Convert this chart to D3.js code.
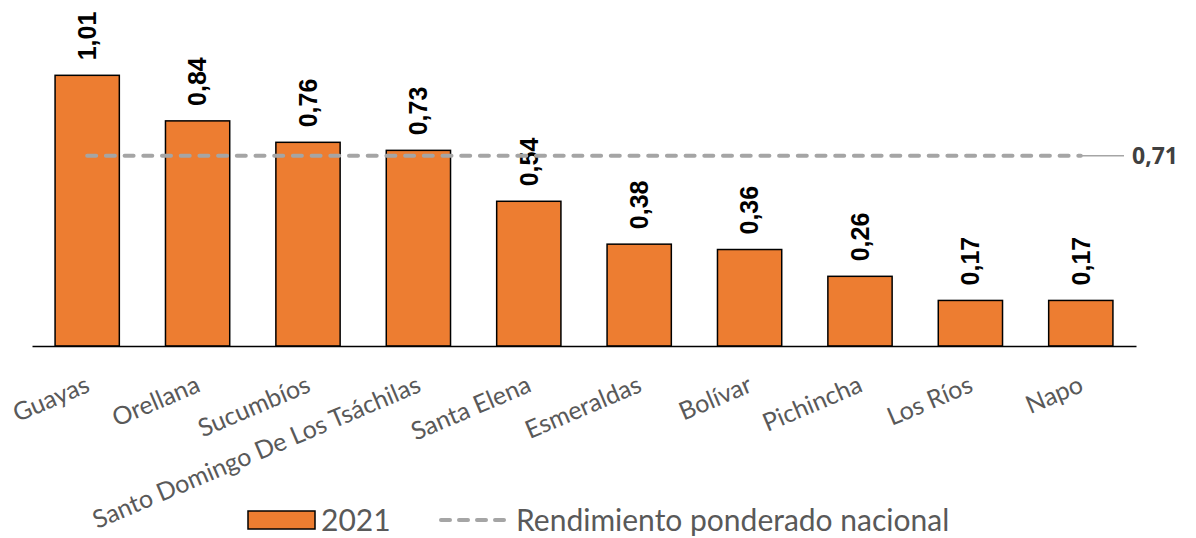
<!DOCTYPE html>
<html>
<head>
<meta charset="utf-8">
<script src="https://cdn.jsdelivr.net/npm/d3@7"></script>
<style>
  body { margin: 0; background: #fff; }
  .catLabel { font-family: Lato, 'Open Sans', sans-serif; font-size: 25px; fill: #595959; }
  .valLabel { font-family: 'Liberation Sans', Arial, sans-serif; font-size: 25px; font-weight: bold; fill: #000; }
  .legendText { font-family: Lato, 'Open Sans', sans-serif; font-size: 30px; fill: #595959; }
</style>
</head>
<body>
<div id="chart"></div>
<script>
const provinces = ['Guayas', 'Orellana', 'Sucumbíos', 'Santo Domingo De Los Tsáchilas', 'Santa Elena',
  'Esmeraldas', 'Bolívar', 'Pichincha', 'Los Ríos', 'Napo'];
const values2021 = [1.01, 0.84, 0.76, 0.73, 0.54, 0.38, 0.36, 0.26, 0.17, 0.17];
const nationalAvg = 0.71;
const seriesNames = ['2021', 'Rendimiento ponderado nacional'];

const width = 1196;
const height = 538;
const baseY = 346;
const orange = '#ED7D31';
const grey = '#A5A5A5';
const fmt = v => d3.format('.2f')(v).replace('.', ',');

const svg = d3.select('#chart').append('svg')
  .attr('width', width)
  .attr('height', height);

const x = d3.scaleBand()
  .domain(provinces)
  .range([32, 1136])
  .paddingInner(0.418)
  .paddingOuter(0.209);

const y = d3.scaleLinear().domain([0, 1]).range([baseY, 78]);

// bars
svg.selectAll('.bar')
  .data(values2021)
  .enter().append('rect')
  .attr('class', 'bar')
  .attr('x', (d, i) => x(provinces[i]))
  .attr('y', d => y(d))
  .attr('width', x.bandwidth())
  .attr('height', d => y(0) - y(d))
  .style('fill', orange)
  .style('stroke', '#000')
  .style('stroke-width', 1.5);

// value labels, rotated
svg.selectAll('.valLabel')
  .data(values2021)
  .enter().append('text')
  .attr('class', 'valLabel')
  .attr('transform', (d, i) => `translate(${x(provinces[i]) + x.bandwidth() / 2}, ${y(d) - 15})rotate(-90)`)
  .attr('dy', '.35em')
  .text(d => fmt(d));

// x axis
const xAxis = svg.append('g')
  .attr('transform', `translate(0, ${baseY})`)
  .call(d3.axisBottom(x).tickSize(0).tickFormat(''));
xAxis.select('.domain').attr('stroke', '#000').attr('stroke-width', 1.5);

svg.selectAll('.catLabel')
  .data(provinces)
  .enter().append('text')
  .attr('class', 'catLabel')
  .attr('text-anchor', 'end')
  .attr('transform', d => `translate(${x(d) + x.bandwidth() / 2 + 4}, 391)rotate(-23)`)
  .text(d => d);

// national weighted average
const avgStart = x(provinces[0]) + x.bandwidth() / 2;
const avgEnd = x(provinces[provinces.length - 1]) + x.bandwidth() / 2;
svg.append('line')
  .attr('x1', avgStart)
  .attr('x2', avgEnd)
  .attr('y1', y(nationalAvg))
  .attr('y2', y(nationalAvg))
  .style('stroke', grey)
  .style('stroke-width', 4)
  .style('stroke-linecap', 'round')
  .style('stroke-dasharray', '9,9.7');

svg.append('line')
  .attr('x1', avgEnd)
  .attr('x2', 1124)
  .attr('y1', y(nationalAvg))
  .attr('y2', y(nationalAvg))
  .style('stroke', grey)
  .style('stroke-width', 1.5);

svg.append('text')
  .attr('x', 1132)
  .attr('y', y(nationalAvg))
  .attr('dy', '.35em')
  .style('font-family', "'Open Sans', sans-serif")
  .style('font-size', '23px')
  .style('font-weight', 'bold')
  .style('fill', '#404040')
  .text(fmt(nationalAvg));

// legend
const legend = svg.append('g').attr('transform', 'translate(0, 520)');

legend.append('rect')
  .attr('x', 248)
  .attr('y', -9)
  .attr('width', 67)
  .attr('height', 18)
  .style('fill', orange)
  .style('stroke', '#000')
  .style('stroke-width', 1.5);

legend.append('text')
  .attr('class', 'legendText')
  .attr('x', 321)
  .attr('dy', '.35em')
  .text(seriesNames[0]);

legend.append('line')
  .attr('x1', 441)
  .attr('x2', 508)
  .style('stroke', grey)
  .style('stroke-width', 4)
  .style('stroke-linecap', 'round')
  .style('stroke-dasharray', '9,9');

legend.append('text')
  .attr('class', 'legendText')
  .attr('x', 516)
  .attr('dy', '.35em')
  .text(seriesNames[1]);
</script>
</body>
</html>
